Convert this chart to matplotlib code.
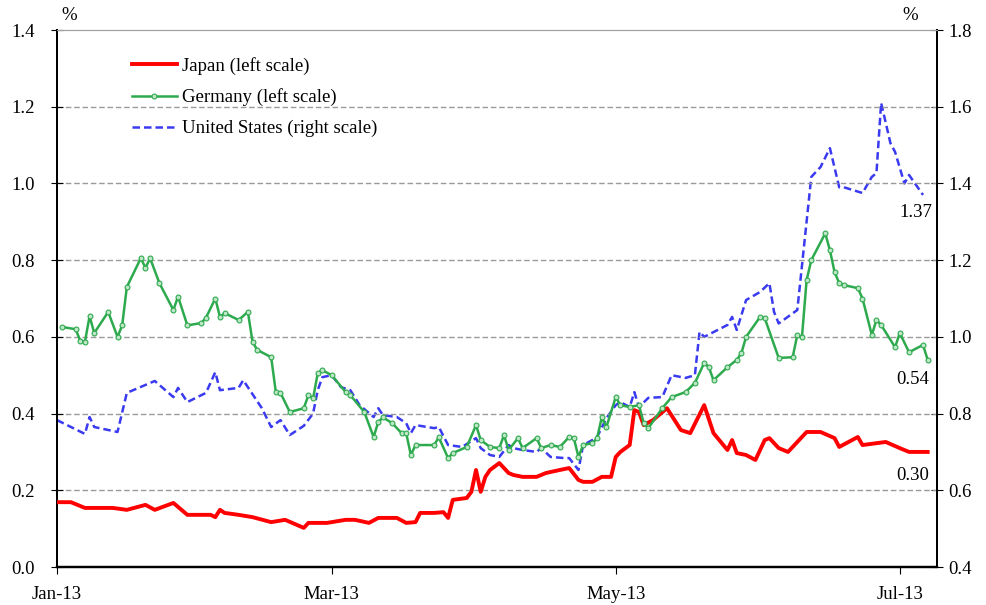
import pandas as pd
import matplotlib
matplotlib.use("Agg")
import matplotlib.pyplot as plt

plt.rcParams['font.family'] = ['Liberation Serif', 'DejaVu Serif']

# 10-year government bond yields, %
jp_dates = ["01-01", "01-04", "01-07", "01-13", "01-16", "01-20", "01-22", "01-26", "01-29",
            "02-03", "02-04", "02-05", "02-06", "02-09", "02-12", "02-16", "02-19", "02-23",
            "02-24", "02-28", "03-04", "03-06", "03-09", "03-11", "03-15", "03-17", "03-19",
            "03-20", "03-23", "03-25", "03-26", "03-27", "03-30", "03-31", "04-01", "04-02",
            "04-03", "04-04", "04-06", "04-08", "04-09", "04-11", "04-14", "04-16", "04-19",
            "04-21", "04-23", "04-24", "04-26", "04-28", "04-30", "05-01", "05-02", "05-04",
            "05-05", "05-06", "05-07", "05-09", "05-12", "05-15", "05-17", "05-20", "05-22",
            "05-25", "05-26", "05-27", "05-29", "05-31", "06-02", "06-03", "06-05", "06-07",
            "06-09", "06-11", "06-14", "06-17", "06-18", "06-22", "06-23", "06-28", "07-01",
            "07-03", "07-05", "07-07"]
japan = [0.169, 0.169, 0.154, 0.154, 0.149, 0.162, 0.149, 0.167, 0.136,
         0.136, 0.130, 0.149, 0.141, 0.136, 0.130, 0.117, 0.123, 0.102,
         0.115, 0.115, 0.123, 0.123, 0.115, 0.128, 0.128, 0.115, 0.117,
         0.141, 0.141, 0.143, 0.128, 0.175, 0.180, 0.196, 0.253, 0.196,
         0.235, 0.253, 0.271, 0.245, 0.240, 0.235, 0.235, 0.245, 0.253,
         0.258, 0.227, 0.222, 0.222, 0.235, 0.235, 0.287, 0.300, 0.318,
         0.409, 0.404, 0.370, 0.383, 0.414, 0.357, 0.349, 0.422, 0.349,
         0.305, 0.331, 0.297, 0.292, 0.279, 0.331, 0.336, 0.310, 0.300,
         0.326, 0.352, 0.352, 0.336, 0.313, 0.339, 0.318, 0.326, 0.310,
         0.300, 0.300, 0.300]

de_dates = ["01-02", "01-05", "01-06", "01-07", "01-08", "01-09", "01-12", "01-14", "01-15",
            "01-16", "01-19", "01-20", "01-21", "01-23", "01-26", "01-27", "01-29", "02-01",
            "02-02", "02-04", "02-05", "02-06", "02-09", "02-11", "02-12", "02-13", "02-16",
            "02-17", "02-18", "02-20", "02-23", "02-24", "02-25", "02-26", "02-27", "03-01",
            "03-04", "03-05", "03-08", "03-10", "03-11", "03-12", "03-14", "03-16", "03-17",
            "03-18", "03-19", "03-23", "03-24", "03-26", "03-27", "03-30", "04-01", "04-02",
            "04-04", "04-06", "04-07", "04-08", "04-10", "04-11", "04-14", "04-15", "04-17",
            "04-19", "04-21", "04-22", "04-23", "04-24", "04-26", "04-27", "04-28", "04-29",
            "05-01", "05-02", "05-04", "05-06", "05-07", "05-08", "05-11", "05-13", "05-16",
            "05-18", "05-20", "05-21", "05-22", "05-25", "05-27", "05-28", "05-29", "06-01",
            "06-02", "06-05", "06-08", "06-09", "06-10", "06-11", "06-12", "06-15", "06-16",
            "06-17", "06-18", "06-19", "06-22", "06-23", "06-25", "06-26", "06-27", "06-30",
            "07-01", "07-03", "07-06", "07-07"]
germany = [0.626, 0.620, 0.590, 0.587, 0.654, 0.610, 0.665, 0.600, 0.630,
           0.730, 0.805, 0.780, 0.805, 0.740, 0.670, 0.705, 0.630, 0.636,
           0.650, 0.700, 0.652, 0.662, 0.644, 0.665, 0.587, 0.566, 0.547,
           0.456, 0.454, 0.404, 0.414, 0.448, 0.440, 0.505, 0.513, 0.500,
           0.456, 0.448, 0.404, 0.339, 0.378, 0.390, 0.375, 0.349, 0.349,
           0.292, 0.318, 0.318, 0.338, 0.284, 0.297, 0.313, 0.370, 0.331,
           0.313, 0.310, 0.344, 0.305, 0.336, 0.310, 0.336, 0.310, 0.318,
           0.313, 0.339, 0.336, 0.287, 0.318, 0.323, 0.336, 0.390, 0.365,
           0.443, 0.422, 0.417, 0.422, 0.375, 0.362, 0.414, 0.443, 0.456,
           0.480, 0.532, 0.521, 0.487, 0.521, 0.540, 0.558, 0.600, 0.652,
           0.649, 0.545, 0.547, 0.605, 0.600, 0.748, 0.800, 0.870, 0.826,
           0.769, 0.740, 0.735, 0.727, 0.700, 0.605, 0.644, 0.631, 0.573,
           0.610, 0.560, 0.579, 0.540]

us_dates = ["01-01", "01-04", "01-07", "01-08", "01-09", "01-14", "01-16", "01-22", "01-26",
            "01-27", "01-29", "02-02", "02-04", "02-05", "02-09", "02-10", "02-14", "02-16",
            "02-18", "02-20", "02-23", "02-25", "02-26", "02-27", "03-01", "03-03", "03-05",
            "03-07", "03-10", "03-11", "03-12", "03-15", "03-17", "03-18", "03-19", "03-23",
            "03-24", "03-26", "03-29", "04-01", "04-02", "04-04", "04-06", "04-08", "04-09",
            "04-11", "04-14", "04-15", "04-17", "04-20", "04-21", "04-23", "04-24", "04-26",
            "04-27", "04-29", "05-01", "05-02", "05-04", "05-05", "05-06", "05-08", "05-11",
            "05-13", "05-16", "05-18", "05-19", "05-20", "05-25", "05-26", "05-27", "05-29",
            "06-01", "06-03", "06-04", "06-05", "06-09", "06-12", "06-14", "06-16", "06-18",
            "06-19", "06-23", "06-25", "06-26", "06-27", "06-29", "06-30", "07-02", "07-03",
            "07-06"]
us = [0.783, 0.765, 0.747, 0.791, 0.765, 0.752, 0.854, 0.885, 0.843,
      0.867, 0.830, 0.854, 0.908, 0.861, 0.867, 0.887, 0.814, 0.765,
      0.783, 0.744, 0.768, 0.800, 0.861, 0.895, 0.900, 0.869, 0.861,
      0.822, 0.791, 0.814, 0.796, 0.791, 0.775, 0.749, 0.770, 0.762,
      0.765, 0.718, 0.713, 0.736, 0.710, 0.692, 0.687, 0.718, 0.710,
      0.705, 0.700, 0.710, 0.687, 0.684, 0.684, 0.653, 0.718, 0.731,
      0.739, 0.788, 0.822, 0.830, 0.817, 0.856, 0.817, 0.841, 0.843,
      0.900, 0.893, 0.900, 1.013, 1.000, 1.031, 1.052, 1.018, 1.096,
      1.117, 1.140, 1.065, 1.035, 1.070, 1.417, 1.443, 1.492, 1.390,
      1.390, 1.375, 1.417, 1.427, 1.610, 1.505, 1.482, 1.400, 1.422,
      1.370]

tick_dates = ["2013-01-01", "2013-03-01", "2013-05-01", "2013-07-01"]
tick_labels = ["Jan-13", "Mar-13", "May-13", "Jul-13"]


def to_dates(md):
    return pd.to_datetime(["2013-" + d for d in md])


FS = 13.5

fig = plt.figure(figsize=(9.86, 6.05), dpi=100)
ax = fig.add_axes([0.0578, 0.0628, 0.8925, 0.8876])
ax2 = ax.twinx()

c = {"jp": "#FF0000", "de": "#2EAA4E", "us": "#3A3AF0"}

l_jp, = ax.plot(to_dates(jp_dates), japan, color=c["jp"], lw=2.8, zorder=3,
                label="Japan (left scale)")
l_de, = ax.plot(to_dates(de_dates), germany, color=c["de"], lw=1.8, marker="o", ms=3.5,
                mfc="#BFE6C8", mec=c["de"], mew=0.8, zorder=4, label="Germany (left scale)")
l_us, = ax2.plot(to_dates(us_dates), us, color=c["us"], lw=1.8, ls=(0, (3, 1.6)),
                 label="United States (right scale)")

ax.set_ylim(0.0, 1.4)
ax2.set_ylim(0.4, 1.8)
yt = [0.0, 0.2, 0.4, 0.6, 0.8, 1.0, 1.2, 1.4]
ax.set_yticks(yt)
ax.set_yticklabels(["%.1f" % v for v in yt], fontsize=FS)
yt2 = [0.4, 0.6, 0.8, 1.0, 1.2, 1.4, 1.6, 1.8]
ax2.set_yticks(yt2)
ax2.set_yticklabels(["%.1f" % v for v in yt2], fontsize=FS)

ax.set_xlim(pd.Timestamp("2013-01-01"), pd.Timestamp("2013-07-09"))
ax.set_xticks(pd.to_datetime(tick_dates))
ax.set_xticklabels(tick_labels, fontsize=FS)
ax.tick_params(axis="x", direction="out", length=5, pad=9)
ax.tick_params(axis="y", direction="inout", length=8, pad=12)
ax2.tick_params(axis="y", direction="inout", length=8, pad=4)

for y in [0.2, 0.4, 0.6, 0.8, 1.0, 1.2]:
    ax.axhline(y, color="#9A9A9A", lw=1.0, ls=(0, (4, 2)), zorder=1)

for a in (ax, ax2):
    a.spines["top"].set_color("#A0A0A0")
    a.spines["left"].set_linewidth(1.4)
    a.spines["right"].set_linewidth(1.4)
    a.spines["bottom"].set_linewidth(1.6)

ax.set_zorder(ax2.get_zorder() + 1)
ax.patch.set_visible(False)

ax.text(0.005, 1.012, "%", transform=ax.transAxes, fontsize=FS, ha="left", va="bottom")
ax.text(0.961, 1.012, "%", transform=ax.transAxes, fontsize=FS, ha="left", va="bottom")

ax2.annotate("%.2f" % us[-1], (to_dates(us_dates)[-1], us[-1]), xytext=(-5, -13),
             textcoords="offset points", fontsize=FS, ha="center", va="center")
ax.annotate("%.2f" % germany[-1], (to_dates(de_dates)[-1], germany[-1]), xytext=(-11, -14),
            textcoords="offset points", fontsize=FS, ha="center", va="center")
ax.annotate("%.2f" % japan[-1], (to_dates(jp_dates)[-1], japan[-1]), xytext=(-11, -17),
            textcoords="offset points", fontsize=FS, ha="center", va="center")

leg = ax.legend(handles=[l_jp, l_de, l_us], loc="upper left", bbox_to_anchor=(0.066, 0.981),
                frameon=False, fontsize=FS, handlelength=2.4, labelspacing=0.72,
                handletextpad=0.25)

fig.savefig("out.png", dpi=100)
